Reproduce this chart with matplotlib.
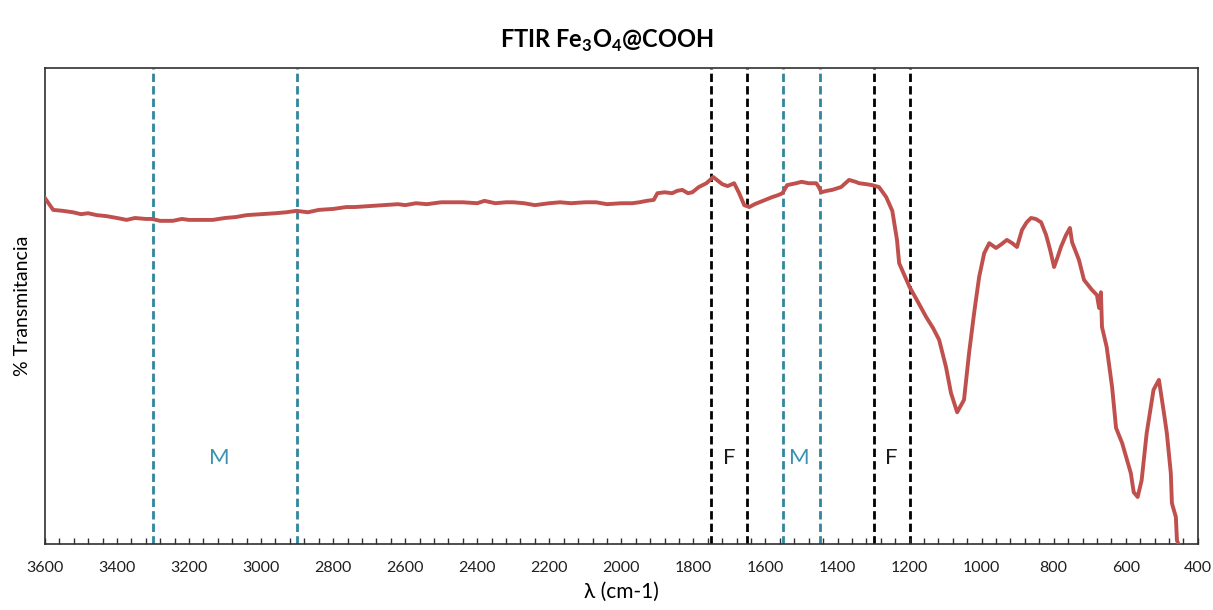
import matplotlib.pyplot as plt
from matplotlib.ticker import MultipleLocator

plt.rcParams['font.family'] = ['Lato', 'DejaVu Sans']
plt.rcParams['mathtext.fontset'] = 'custom'
plt.rcParams['mathtext.rm'] = 'Lato'
plt.rcParams['mathtext.bf'] = 'Lato:bold'

# espectro FTIR (numero de onda, % transmitancia)
wavenumber = [3600, 3590, 3577, 3550, 3522, 3500, 3480, 3456, 3430, 3400,
              3373, 3350, 3320, 3303, 3280, 3245, 3220, 3200, 3170, 3134,
              3100, 3070, 3040, 3000, 2960, 2930, 2902, 2870, 2840, 2800,
              2763, 2740, 2700, 2660, 2620, 2600, 2570, 2540, 2500, 2470,
              2440, 2400, 2380, 2350, 2320, 2300, 2270, 2240, 2200, 2170,
              2140, 2100, 2070, 2040, 2000, 1970, 1950, 1930, 1910, 1900,
              1880, 1859, 1845, 1831, 1815, 1803, 1785, 1764, 1745, 1735,
              1720, 1705, 1687, 1673, 1659, 1645, 1630, 1617, 1600, 1581,
              1565, 1553, 1540, 1515, 1500, 1480, 1459, 1452, 1445, 1430,
              1415, 1390, 1368, 1350, 1340, 1320, 1304, 1285, 1265, 1248,
              1235, 1229, 1200, 1180, 1154, 1135, 1118, 1099, 1085, 1068,
              1049, 1035, 1021, 1007, 993, 979, 960, 945, 930, 915,
              902, 888, 875, 863, 850, 835, 821, 810, 799, 790,
              780, 766, 755, 749, 730, 716, 694, 680, 674, 669,
              666, 653, 638, 627, 610, 586, 578, 567, 556, 542,
              523, 508, 494, 486, 475, 472, 461, 458, 453]
transmittance = [72.7, 71.6, 70.2, 70.0, 69.7, 69.3, 69.5, 69.1, 68.9, 68.5,
                 68.1, 68.5, 68.3, 68.3, 67.9, 67.9, 68.3, 68.1, 68.1, 68.1,
                 68.5, 68.7, 69.1, 69.3, 69.5, 69.7, 70.0, 69.7, 70.2, 70.4,
                 70.8, 70.8, 71.0, 71.2, 71.4, 71.2, 71.6, 71.4, 71.8, 71.8,
                 71.8, 71.6, 72.1, 71.6, 71.8, 71.8, 71.6, 71.2, 71.6, 71.8,
                 71.6, 71.8, 71.8, 71.4, 71.6, 71.6, 71.8, 72.1, 72.3, 73.7,
                 73.9, 73.7, 74.2, 74.4, 73.7, 73.9, 75.0, 75.8, 77.1, 76.5,
                 75.6, 75.2, 75.8, 73.7, 71.2, 70.8, 71.4, 71.8, 72.3, 72.9,
                 73.3, 73.7, 75.4, 75.8, 76.1, 75.8, 75.8, 75.0, 73.9, 74.2,
                 74.4, 75.0, 76.5, 76.1, 75.8, 75.6, 75.4, 75.0, 72.9, 70.0,
                 63.9, 59.0, 54.0, 51.3, 47.7, 45.4, 42.9, 37.2, 31.7, 27.7,
                 30.3, 40.1, 48.5, 56.1, 61.1, 63.2, 62.2, 63.0, 63.9, 63.2,
                 62.4, 66.0, 67.6, 68.5, 68.3, 67.6, 64.9, 61.8, 58.2, 60.1,
                 62.4, 64.9, 66.4, 63.4, 59.7, 55.5, 53.4, 52.3, 49.6, 52.9,
                 45.6, 41.4, 33.0, 24.4, 21.2, 14.9, 10.9, 9.9, 13.4, 23.3,
                 32.4, 34.5, 27.5, 23.3, 14.9, 8.6, 5.7, 0.8, -0.2]

# bandas marcadas
m_bands = [(3300, 2900), (1550, 1450)]
f_bands = [(1750, 1650), (1300, 1200)]
labels_x = [3115, 1700, 1506, 1251]
labels_txt = ['M', 'F', 'M', 'F']
label_y = 18

teal = '#31859C'

fig = plt.figure(figsize=(12.13, 6.10), dpi=100)
ax = fig.add_axes([0.037, 0.108, 0.9505, 0.7805])

for lo, hi in m_bands:
    for xv in (lo, hi):
        ax.axvline(xv, color=teal, lw=2, ls=(0, (3, 1.5)), zorder=1)
for lo, hi in f_bands:
    for xv in (lo, hi):
        ax.axvline(xv, color='black', lw=2, ls=(0, (3, 1.5)), zorder=1)

ax.plot(wavenumber, transmittance, color='#C0504D', lw=2.8, zorder=3,
        solid_joinstyle='round')

for xv, t in zip(labels_x, labels_txt):
    ax.text(xv, label_y, t, ha='center', va='center', fontsize=16,
            color='#3A93B0' if t == 'M' else '#1a1a1a')

ax.set_xlim(3600, 400)
ax.set_ylim(0, 100)
ax.xaxis.set_major_locator(MultipleLocator(200))
ax.xaxis.set_minor_locator(MultipleLocator(40))
ax.tick_params(axis='x', which='both', direction='in', length=4, width=1,
               labelsize=11.5, pad=12, color='#303030', labelcolor='#202020')
ax.set_yticks([])
for s in ax.spines.values():
    s.set_color('#303030')
    s.set_linewidth(1.2)

ax.set_xlabel('λ (cm-1)', fontsize=15, labelpad=5)
ax.set_ylabel('% Transmitancia', fontsize=14, labelpad=10)
fig.suptitle(r'FTIR Fe$_{\mathbf{3}}$O$_{\mathbf{4}}$@COOH', fontsize=17,
             fontweight='bold', y=0.955)

fig.savefig('out.png', dpi=100)
